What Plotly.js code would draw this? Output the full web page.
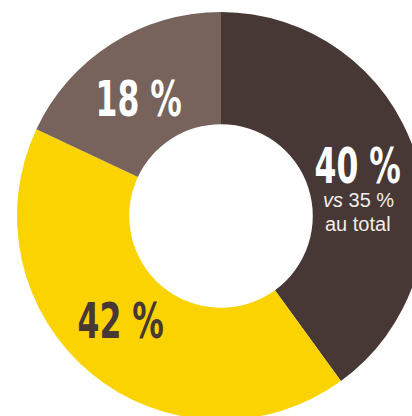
<!DOCTYPE html>
<html>
<head>
<meta charset="utf-8">
<script src="https://cdn.plot.ly/plotly-3.0.1.min.js"></script>
<style>
html,body{margin:0;padding:0;overflow:hidden;background:#fff;width:412px;height:416px;}
#chart{width:430px;height:432px;}
</style>
</head>
<body>
<div id="chart"></div>
<script>
const categories = ["A", "B", "C"];
const shares = [40, 42, 18];
const compareText = ["<i>vs</i> 35 %", "au total"];

const sliceColors = ["#473735", "#fbd300", "#77635b"];
const labelColors = ["#ffffff", "#473735", "#ffffff"];

const W = 430, H = 432;
const cx = 221, cy = 216, R = 204;
const px = x => x / W;
const py = y => 1 - y / H;

const labelPos = [[357, 166], [120, 321], [138, 99]];
const bigFont = "'DejaVu Sans Condensed', 'Liberation Sans Narrow', sans-serif";
const smallFont = "'Liberation Sans', Arial, sans-serif";

const annotations = shares.map((v, i) => ({
  text: "<b>" + v + " %</b>",
  x: px(labelPos[i][0]), y: py(labelPos[i][1]),
  xref: "paper", yref: "paper", xanchor: "center", yanchor: "middle",
  showarrow: false,
  font: {family: bigFont, size: 50, color: labelColors[i]}
}));
annotations.push({
  text: compareText[0], x: px(358), y: py(200), xref: "paper", yref: "paper",
  xanchor: "center", yanchor: "middle", showarrow: false,
  font: {family: smallFont, size: 20, color: "#f2eeea"}
});
annotations.push({
  text: compareText[1], x: px(358), y: py(224), xref: "paper", yref: "paper",
  xanchor: "center", yanchor: "middle", showarrow: false,
  font: {family: smallFont, size: 20, color: "#f2eeea"}
});

Plotly.newPlot("chart", [{
  type: "pie",
  labels: categories,
  values: shares,
  hole: 0.45,
  sort: false,
  direction: "clockwise",
  rotation: 0,
  textinfo: "none",
  hoverinfo: "none",
  marker: {colors: sliceColors, line: {width: 0}},
  domain: {x: [px(cx - R), px(cx + R)], y: [py(cy + R), py(cy - R)]}
}], {
  width: W, height: H,
  margin: {l: 0, r: 0, t: 0, b: 0},
  showlegend: false,
  paper_bgcolor: "#ffffff",
  annotations: annotations
}, {displayModeBar: false, staticPlot: true}).then(gd => {
  // condense the big percentage labels horizontally (narrow display face)
  const texts = gd.querySelectorAll("g.annotation text.annotation-text");
  texts.forEach((t, i) => {
    if (i >= shares.length) return;
    const b = t.getBBox();
    const c = b.x + b.width / 2;
    t.setAttribute("transform", "translate(" + c + ",0) scale(0.7,1) translate(" + (-c) + ",0)");
  });
});
</script>
</body>
</html>
